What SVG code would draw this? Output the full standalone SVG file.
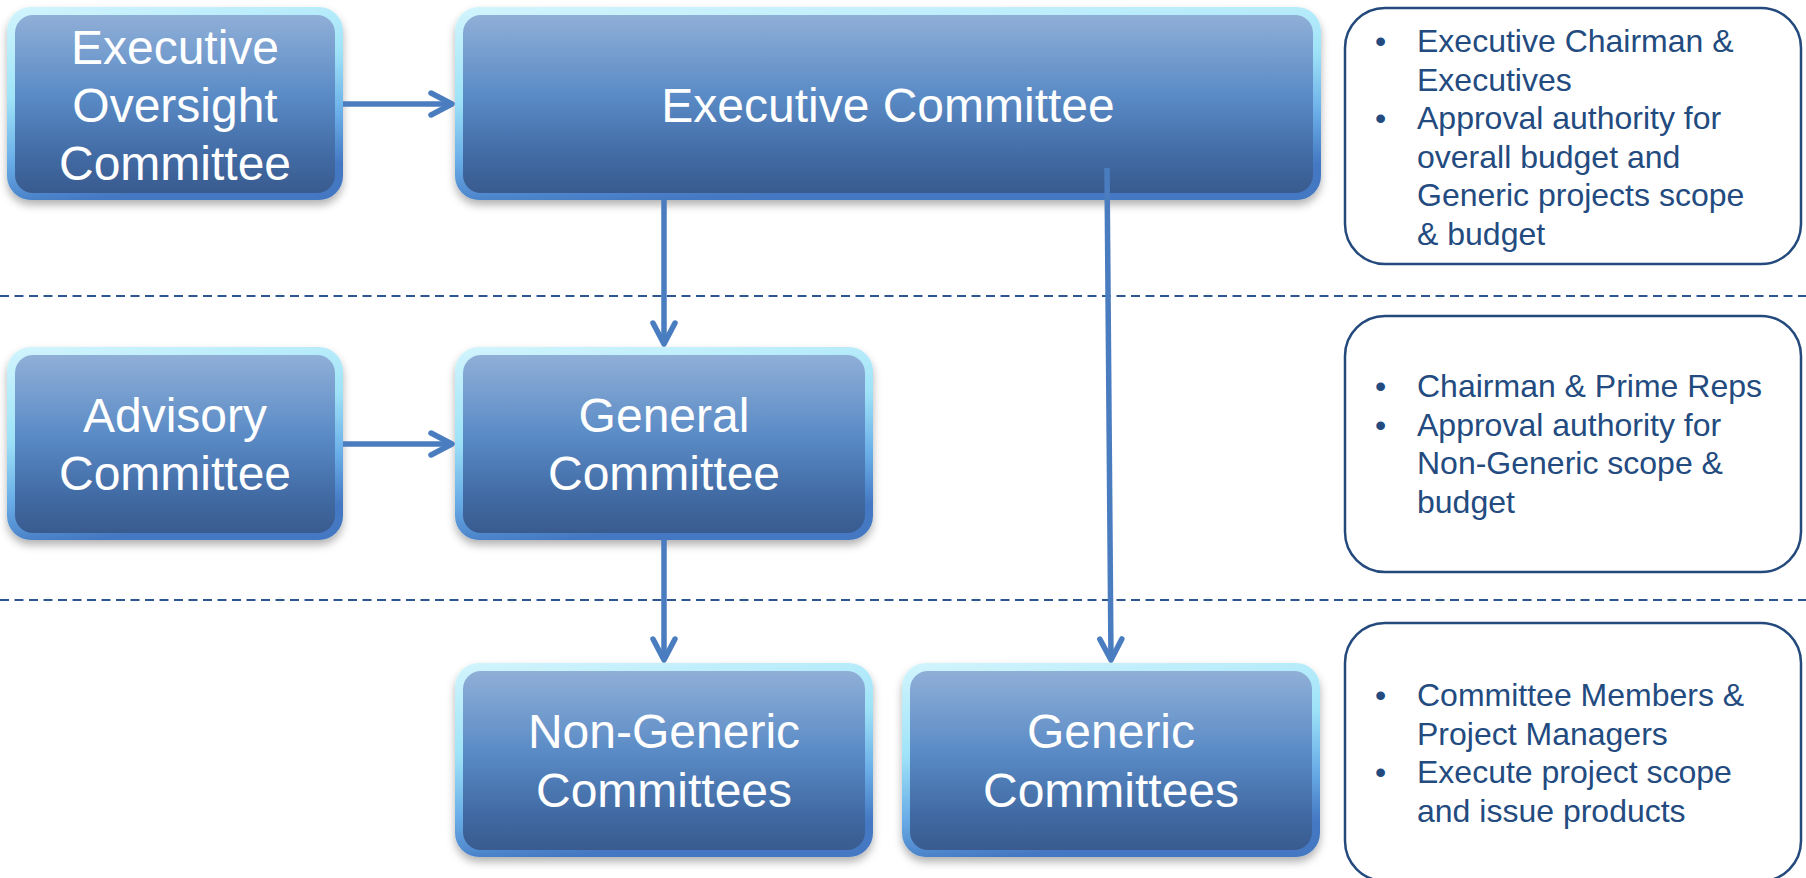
<svg xmlns="http://www.w3.org/2000/svg" width="1806" height="878" viewBox="0 0 1806 878">
<style>
.frame{fill:url(#bevel)}
.face{fill:url(#face)}
.node text{font-family:"Liberation Sans",Arial,sans-serif;font-size:48px;fill:#ffffff;text-anchor:middle}
.info rect{fill:#ffffff;stroke:#24497c;stroke-width:2.5}
.info text{font-family:"Liberation Sans",Arial,sans-serif;font-size:32px;fill:#234b80}
.dash{stroke:#2c5690;stroke-width:2.2;stroke-dasharray:9 5.5;fill:none}
.conn{stroke:#4a7dbf;stroke-width:5.5;fill:none;marker-end:url(#arr)}
</style>
<defs>
<linearGradient id="bevel" x1="0" y1="0" x2="0.25" y2="1">
<stop offset="0" stop-color="#d2f5fd"/>
<stop offset="0.45" stop-color="#9fe3f8"/>
<stop offset="0.75" stop-color="#6aaee8"/>
<stop offset="1" stop-color="#4478c2"/>
</linearGradient>
<linearGradient id="face" x1="0" y1="0" x2="0" y2="1">
<stop offset="0" stop-color="#90afd7"/>
<stop offset="0.45" stop-color="#5a8bc6"/>
<stop offset="0.8" stop-color="#416aa3"/>
<stop offset="1" stop-color="#395b8f"/>
</linearGradient>
<filter id="shadow" x="-10%" y="-10%" width="120%" height="130%">
<feDropShadow dx="0" dy="5" stdDeviation="4" flood-color="#000000" flood-opacity="0.3"/>
</filter>
<marker id="arr" markerUnits="userSpaceOnUse" viewBox="-30 -15 35 30" markerWidth="35" markerHeight="30" refX="0" refY="0" orient="auto">
<path d="M-21,-11 L0,0 L-21,11" fill="none" stroke="#4a7dbf" stroke-width="5.5" stroke-linecap="round" stroke-linejoin="round"/>
</marker>
</defs>
<rect width="1806" height="878" fill="#ffffff"/>
<g id="separators">
<line class="dash" x1="0" y1="296" x2="1806" y2="296"/>
<line class="dash" x1="0" y1="600" x2="1806" y2="600"/>
</g>
<g id="executive-oversight" class="node">
<rect class="frame" x="7" y="7" width="336" height="193" rx="24" filter="url(#shadow)"/>
<rect class="face" x="15" y="15" width="320" height="178" rx="18"/>
<text x="175" y="64">Executive</text>
<text x="175" y="122">Oversight</text>
<text x="175" y="180">Committee</text>
</g>
<g id="executive-committee" class="node">
<rect class="frame" x="455" y="7" width="866" height="193" rx="24" filter="url(#shadow)"/>
<rect class="face" x="463" y="15" width="850" height="178" rx="18"/>
<text x="888" y="122">Executive Committee</text>
</g>
<g id="advisory-committee" class="node">
<rect class="frame" x="7" y="347" width="336" height="193" rx="24" filter="url(#shadow)"/>
<rect class="face" x="15" y="355" width="320" height="178" rx="18"/>
<text x="175" y="432">Advisory</text>
<text x="175" y="490">Committee</text>
</g>
<g id="general-committee" class="node">
<rect class="frame" x="455" y="347" width="418" height="193" rx="24" filter="url(#shadow)"/>
<rect class="face" x="463" y="355" width="402" height="178" rx="18"/>
<text x="664" y="432">General</text>
<text x="664" y="490">Committee</text>
</g>
<g id="non-generic-committees" class="node">
<rect class="frame" x="455" y="663" width="418" height="194" rx="24" filter="url(#shadow)"/>
<rect class="face" x="463" y="671" width="402" height="179" rx="18"/>
<text x="664" y="748">Non-Generic</text>
<text x="664" y="807">Committees</text>
</g>
<g id="generic-committees" class="node">
<rect class="frame" x="902" y="663" width="418" height="194" rx="24" filter="url(#shadow)"/>
<rect class="face" x="910" y="671" width="402" height="179" rx="18"/>
<text x="1111" y="748">Generic</text>
<text x="1111" y="807">Committees</text>
</g>
<g id="connectors">
<line class="conn" x1="343" y1="104" x2="452" y2="104"/>
<line class="conn" x1="343" y1="444" x2="452" y2="444"/>
<line class="conn" x1="664" y1="200" x2="664" y2="344"/>
<line class="conn" x1="664" y1="540" x2="664" y2="660"/>
<line class="conn" x1="1107" y1="168" x2="1111" y2="660"/>
</g>
<g id="info-top" class="info">
<rect x="1345" y="8" width="456" height="256" rx="40"/>
<text x="1375" y="52">•</text>
<text x="1417" y="52">Executive Chairman &amp;</text>
<text x="1417" y="90.5">Executives</text>
<text x="1375" y="129">•</text>
<text x="1417" y="129">Approval authority for</text>
<text x="1417" y="167.5">overall budget and</text>
<text x="1417" y="206">Generic projects scope</text>
<text x="1417" y="244.5">&amp; budget</text>
</g>
<g id="info-middle" class="info">
<rect x="1345" y="316" width="456" height="256" rx="40"/>
<text x="1375" y="397">•</text>
<text x="1417" y="397">Chairman &amp; Prime Reps</text>
<text x="1375" y="435.5">•</text>
<text x="1417" y="435.5">Approval authority for</text>
<text x="1417" y="474">Non-Generic scope &amp;</text>
<text x="1417" y="512.5">budget</text>
</g>
<g id="info-bottom" class="info">
<rect x="1345" y="623" width="456" height="258" rx="40"/>
<text x="1375" y="706">•</text>
<text x="1417" y="706">Committee Members &amp;</text>
<text x="1417" y="744.5">Project Managers</text>
<text x="1375" y="783">•</text>
<text x="1417" y="783">Execute project scope</text>
<text x="1417" y="821.5">and issue products</text>
</g>
</svg>
